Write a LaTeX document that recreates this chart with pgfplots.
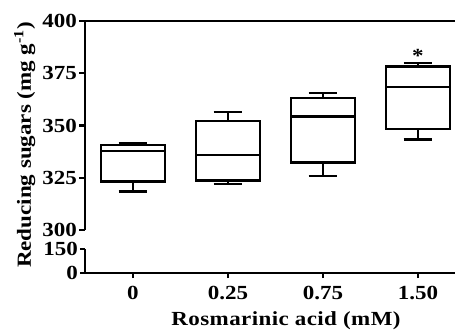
\documentclass[border=0pt]{standalone}
\usepackage{fontspec}
\setmainfont{Liberation Serif}[FakeStretch=1.15]
\usepackage{pgfplots}
\pgfplotsset{compat=1.18}
\newcommand{\lab}{\fontsize{20}{23}\selectfont\bfseries}
\pgfplotsset{
  brk/.style={
    scale only axis, anchor=south west, width=370pt,
    xmin=-0.505, xmax=3.39,
    axis line style={line width=2.2pt, black},
    tick style={line width=2.2pt, black},
    major tick length=6pt, tick align=outside,
    /pgf/number format/assume math mode=true,
    tick label style={font=\lab},
    yticklabel style={xshift=1.5pt},
    clip=false,
  },
  bx/.style={black, solid, line width=2.2pt, mark=none, line join=miter},
}
\begin{document}
\begin{tikzpicture}
\useasboundingbox (0pt,0pt) rectangle (455pt,330pt);
\begin{axis}[brk, at={(85pt,100pt)}, height=209pt,
  ymin=300, ymax=400, ytick={300,325,350,375,400},
  axis x line*=top, axis y line*=left, xtick=\empty]
% group 0
\addplot[bx] coordinates {(-0.335,323.2) (0.335,323.2) (0.335,340.7) (-0.335,340.7)} -- cycle;
\addplot[bx] coordinates {(-0.335,337.9) (0.335,337.9)};
\addplot[bx] coordinates {(0,340.7) (0,341.5)};
\addplot[bx] coordinates {(-0.15,341.5) (0.15,341.5)};
\addplot[bx] coordinates {(0,323.2) (0,318.4)};
\addplot[bx] coordinates {(-0.15,318.4) (0.15,318.4)};
% group 0.25
\addplot[bx] coordinates {(0.665,323.7) (1.335,323.7) (1.335,352.3) (0.665,352.3)} -- cycle;
\addplot[bx] coordinates {(0.665,335.9) (1.335,335.9)};
\addplot[bx] coordinates {(1,352.3) (1,356.3)};
\addplot[bx] coordinates {(0.85,356.3) (1.15,356.3)};
\addplot[bx] coordinates {(1,323.7) (1,321.9)};
\addplot[bx] coordinates {(0.85,321.9) (1.15,321.9)};
% group 0.75
\addplot[bx] coordinates {(1.665,332.3) (2.335,332.3) (2.335,363.2) (1.665,363.2)} -- cycle;
\addplot[bx] coordinates {(1.665,354.3) (2.335,354.3)};
\addplot[bx] coordinates {(2,363.2) (2,365.4)};
\addplot[bx] coordinates {(1.85,365.4) (2.15,365.4)};
\addplot[bx] coordinates {(2,332.3) (2,325.9)};
\addplot[bx] coordinates {(1.85,325.9) (2.15,325.9)};
% group 1.50
\addplot[bx] coordinates {(2.665,348.4) (3.335,348.4) (3.335,378.2) (2.665,378.2)} -- cycle;
\addplot[bx] coordinates {(2.665,368.6) (3.335,368.6)};
\addplot[bx] coordinates {(3,378.2) (3,379.9)};
\addplot[bx] coordinates {(2.85,379.9) (3.15,379.9)};
\addplot[bx] coordinates {(3,348.4) (3,343.3)};
\addplot[bx] coordinates {(2.85,343.3) (3.15,343.3)};
\node[font=\fontsize{20}{22}\selectfont\bfseries] at (axis cs:3,383.5) {*};
\end{axis}
\begin{axis}[brk, at={(85pt,57pt)}, height=24pt,
  ymin=0, ymax=150, ytick={0,150},
  axis x line*=bottom, axis y line*=left,
  xtick={0,1,2,3}, xticklabels={0,0.25,0.75,1.50},
  xticklabel style={yshift=-5pt},
  major tick length=5pt]
\end{axis}
\node[rotate=90, font=\lab, anchor=base] at (31pt,185pt) {Reducing sugars (mg g\textsuperscript{-1})};
\node[font=\lab\addfontfeatures{LetterSpace=2}, anchor=base] at (286pt,4.5pt) {Rosmarinic acid (mM)};
\end{tikzpicture}
\end{document}
